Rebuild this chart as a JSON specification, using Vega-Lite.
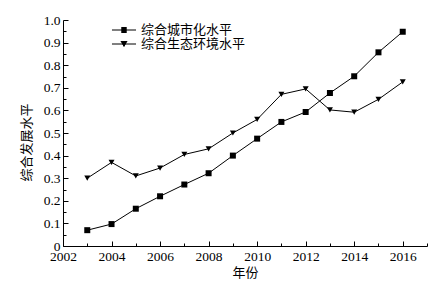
{
  "$schema": "https://vega.github.io/schema/vega-lite/v6.json",
  "width": 364,
  "height": 226,
  "autosize": {"type": "none"},
  "padding": {"left": 63, "top": 20, "right": 19, "bottom": 39},
  "background": "white",
  "config": {
    "view": {"stroke": null},
    "font": "Liberation Serif",
    "axis": {
      "domainColor": "black",
      "tickColor": "black",
      "labelColor": "black",
      "titleColor": "black",
      "labelFont": "Liberation Serif",
      "labelFontSize": 13.5,
      "titleFont": "Noto Sans CJK SC",
      "titleFontSize": 13,
      "titleFontWeight": "normal",
      "grid": false
    }
  },
  "data": {
    "values": [
      {"year": 2003, "series": "综合城市化水平", "value": 0.07},
      {"year": 2004, "series": "综合城市化水平", "value": 0.097},
      {"year": 2005, "series": "综合城市化水平", "value": 0.165},
      {"year": 2006, "series": "综合城市化水平", "value": 0.22},
      {"year": 2007, "series": "综合城市化水平", "value": 0.272},
      {"year": 2008, "series": "综合城市化水平", "value": 0.322},
      {"year": 2009, "series": "综合城市化水平", "value": 0.4},
      {"year": 2010, "series": "综合城市化水平", "value": 0.475},
      {"year": 2011, "series": "综合城市化水平", "value": 0.549},
      {"year": 2012, "series": "综合城市化水平", "value": 0.593},
      {"year": 2013, "series": "综合城市化水平", "value": 0.677},
      {"year": 2014, "series": "综合城市化水平", "value": 0.751},
      {"year": 2015, "series": "综合城市化水平", "value": 0.857},
      {"year": 2016, "series": "综合城市化水平", "value": 0.948},
      {"year": 2003, "series": "综合生态环境水平", "value": 0.3},
      {"year": 2004, "series": "综合生态环境水平", "value": 0.37},
      {"year": 2005, "series": "综合生态环境水平", "value": 0.31},
      {"year": 2006, "series": "综合生态环境水平", "value": 0.345},
      {"year": 2007, "series": "综合生态环境水平", "value": 0.405},
      {"year": 2008, "series": "综合生态环境水平", "value": 0.43},
      {"year": 2009, "series": "综合生态环境水平", "value": 0.5},
      {"year": 2010, "series": "综合生态环境水平", "value": 0.56},
      {"year": 2011, "series": "综合生态环境水平", "value": 0.671},
      {"year": 2012, "series": "综合生态环境水平", "value": 0.695},
      {"year": 2013, "series": "综合生态环境水平", "value": 0.602},
      {"year": 2014, "series": "综合生态环境水平", "value": 0.592},
      {"year": 2015, "series": "综合生态环境水平", "value": 0.649},
      {"year": 2016, "series": "综合生态环境水平", "value": 0.726}
    ]
  },
  "encoding": {
    "x": {
      "field": "year",
      "type": "quantitative",
      "scale": {"domain": [2002, 2017], "nice": false, "zero": false},
      "axis": {
        "title": "年份",
        "values": [2002, 2003, 2004, 2005, 2006, 2007, 2008, 2009, 2010, 2011, 2012, 2013, 2014, 2015, 2016, 2017],
        "labelExpr": "datum.value % 2 === 0 && datum.value < 2017 ? datum.value : ''",
        "tickSize": {"condition": {"test": "datum.value % 2 === 0", "value": -5}, "value": -3},
        "labelPadding": 8,
        "labelFlush": false,
        "titlePadding": 4
      }
    },
    "y": {
      "field": "value",
      "type": "quantitative",
      "scale": {"domain": [0, 1], "nice": false},
      "axis": {
        "title": "综合发展水平",
        "values": [0, 0.05, 0.1, 0.15, 0.2, 0.25, 0.3, 0.35, 0.4, 0.45, 0.5, 0.55, 0.6, 0.65, 0.7, 0.75, 0.8, 0.85, 0.9, 0.95, 1.0],
        "labelExpr": "datum.value === 0 ? '0' : (round(datum.value * 100) % 10 === 0 ? format(datum.value, '.1f') : '')",
        "tickSize": {"condition": {"test": "round(datum.value * 100) % 10 === 0", "value": -5}, "value": -3},
        "labelPadding": 8,
        "labelFlush": false,
        "titlePadding": 10,
        "titleY": 122
      }
    }
  },
  "layer": [
    {
      "mark": {"type": "line", "color": "black", "strokeWidth": 1},
      "encoding": {"detail": {"field": "series"}}
    },
    {
      "mark": {"type": "point", "filled": true, "color": "black", "opacity": 1},
      "encoding": {
        "shape": {
          "field": "series",
          "type": "nominal",
          "scale": {"domain": ["综合城市化水平", "综合生态环境水平"], "range": ["square", "triangle-down"]},
          "legend": null
        },
        "size": {"value": 36}
      }
    },
    {
      "mark": {"type": "point", "filled": false, "color": "black", "strokeWidth": 1, "opacity": 0},
      "encoding": {
        "shape": {
          "field": "series",
          "type": "nominal",
          "scale": {
            "domain": ["综合城市化水平", "综合生态环境水平"],
            "range": [
              "M-1.85,0H1.85M-0.42,-0.385H0.42M-0.42,-0.23H0.42M-0.42,-0.077H0.42M-0.42,0.077H0.42M-0.42,0.23H0.42M-0.42,0.385H0.42",
              "M-1.85,0H1.85M-0.503,-0.385H0.503M-0.415,-0.23H0.415M-0.328,-0.077H0.328M-0.24,0.077H0.24M-0.153,0.23H0.153M-0.065,0.385H0.065"
            ]
          },
          "legend": {
            "title": null,
            "orient": "none",
            "legendX": 54,
            "legendY": 3,
            "labelFont": "Noto Sans CJK SC",
            "labelFontSize": 13,
            "labelColor": "black",
            "symbolSize": 169,
            "symbolOpacity": 1,
            "symbolStrokeWidth": 1,
            "labelOffset": 10,
            "rowPadding": 0
          }
        },
        "size": {"value": 36}
      }
    }
  ],
  "resolve": {"scale": {"shape": "independent"}}
}
